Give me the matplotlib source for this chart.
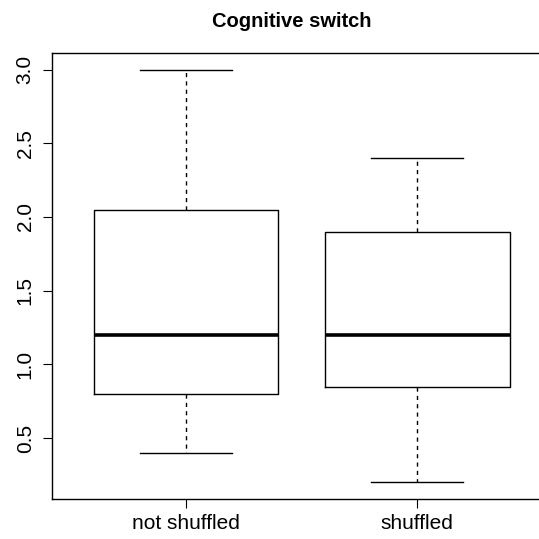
import matplotlib
matplotlib.use('Agg')
import matplotlib.pyplot as plt

plt.rcParams['font.family'] = ['Liberation Sans', 'DejaVu Sans']

groups = ['not shuffled', 'shuffled']
whisker_low = [0.4, 0.2]
q1 = [0.8, 0.85]
median = [1.2, 1.2]
q3 = [2.05, 1.9]
whisker_high = [3.0, 2.4]

stats = []
for i, name in enumerate(groups):
    stats.append({'label': name, 'whislo': whisker_low[i], 'q1': q1[i],
                  'med': median[i], 'q3': q3[i], 'whishi': whisker_high[i]})

fig = plt.figure(figsize=(5.39, 5.39), dpi=100)
# frame runs past the right edge, like the R device output
ax = fig.add_axes([0.0965, 0.0742, 0.926, 0.8275])

ax.bxp(stats, positions=[1, 2], widths=0.8, showfliers=False,
       boxprops=dict(color='black', linewidth=1.0),
       whiskerprops=dict(color='black', linewidth=1.0, linestyle=(0, (3, 3))),
       capprops=dict(color='black', linewidth=1.0),
       medianprops=dict(color='black', linewidth=2.6),
       capwidths=0.4)

ax.set_xlim(0.42, 2.58)
ax.set_ylim(0.088, 3.112)
ax.set_yticks([0.5, 1.0, 1.5, 2.0, 2.5, 3.0])
ax.set_yticklabels(['0.5', '1.0', '1.5', '2.0', '2.5', '3.0'], rotation=90, va='center')
ax.set_xticks([1, 2])
ax.set_xticklabels(groups)
ax.tick_params(axis='both', direction='out', length=6.5, width=0.8, labelsize=15, pad=4)
ax.tick_params(axis='y', pad=6)
for sp in ax.spines.values():
    sp.set_linewidth(1.0)

fig.text(0.541, 0.960, 'Cognitive switch', ha='center', va='center',
         fontsize=14.5, fontweight='bold')

fig.savefig('out.png', dpi=100)
